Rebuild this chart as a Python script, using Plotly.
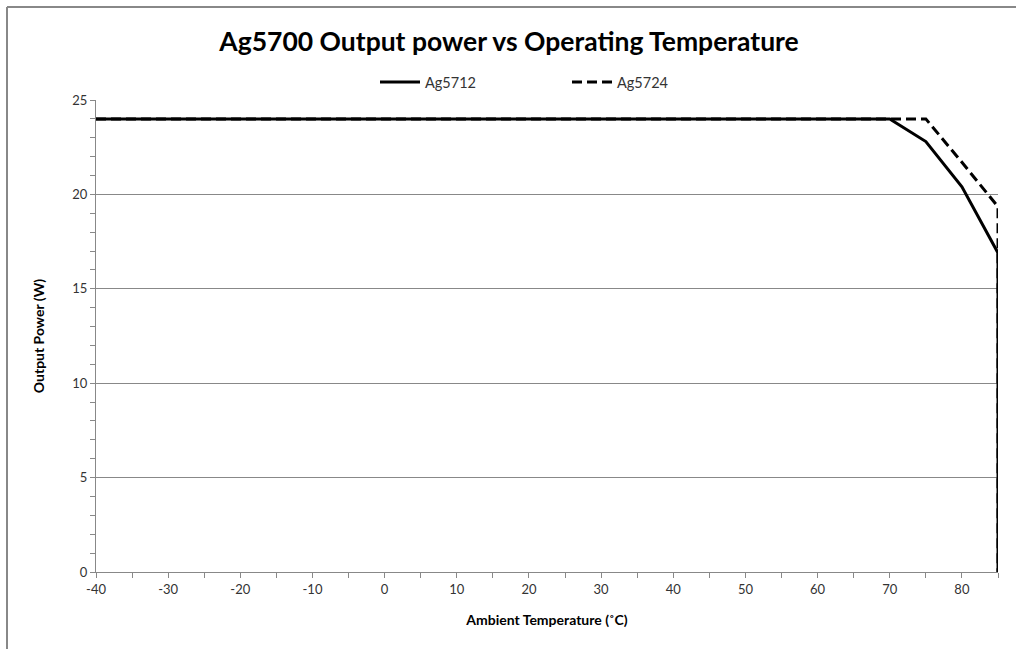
import plotly.graph_objects as go

temps = [-40, -35, -30, -25, -20, -15, -10, -5, 0, 5, 10, 15, 20, 25, 30, 35,
         40, 45, 50, 55, 60, 65, 70, 75, 80, 85, 85]
ag5712 = [24, 24, 24, 24, 24, 24, 24, 24, 24, 24, 24, 24, 24, 24, 24, 24,
          24, 24, 24, 24, 24, 24, 24, 22.8, 20.4, 16.9, 0]
ag5724 = [24, 24, 24, 24, 24, 24, 24, 24, 24, 24, 24, 24, 24, 24, 24, 24,
          24, 24, 24, 24, 24, 24, 24, 24, 21.7, 19.35, 0]

x_ticks = [-40, -30, -20, -10, 0, 10, 20, 30, 40, 50, 60, 70, 80]
y_ticks = [0, 5, 10, 15, 20, 25]

FONT = "Lato"

fig = go.Figure()
fig.add_trace(go.Scatter(x=temps, y=ag5724, mode="lines", name="Ag5724",
                         line=dict(color="black", width=3, dash="10px,5px")))
fig.add_trace(go.Scatter(x=temps, y=ag5712, mode="lines", name="Ag5712",
                         line=dict(color="black", width=3)))

fig.update_layout(
    width=1016, height=649,
    margin=dict(l=96, r=18, t=100, b=77),
    paper_bgcolor="white", plot_bgcolor="white",
    font=dict(family=FONT, size=13, color="#333"),
    title=dict(text="<b>Ag5700 Output power vs Operating Temperature</b>",
               x=(509 - 96) / 902, xref="paper", xanchor="center",
               y=0.935, yanchor="middle",
               font=dict(family=FONT, size=26.5, color="black")),
    showlegend=True,
    legend=dict(orientation="h", x=(375 - 96) / 902, xanchor="left", y=1.038, yanchor="middle",
                traceorder="reversed", entrywidth=137, entrywidthmode="pixels",
                itemwidth=40,
                font=dict(family=FONT, size=14.5, color="#333"),
                bgcolor="rgba(0,0,0,0)"),
    xaxis=dict(range=[-40, 85], tickvals=x_ticks, ticktext=[str(v) for v in x_ticks],
               showgrid=False, zeroline=False, showline=True, linecolor="#888", linewidth=1,
               ticks="outside", ticklen=5, tickcolor="#888",
               minor=dict(dtick=5, tick0=-40, ticks="outside", ticklen=5, tickcolor="#888"),
               tickfont=dict(size=13, color="#333"),
               title=dict(text="<b>Ambient Temperature (˚C)</b>", standoff=19,
                          font=dict(family=FONT, size=14, color="black"))),
    yaxis=dict(range=[0, 25], tickvals=y_ticks, ticktext=[str(v) for v in y_ticks],
               showgrid=True, gridcolor="#888", gridwidth=1, zeroline=False,
               showline=True, linecolor="#888", linewidth=1,
               ticks="outside", ticklen=5, tickcolor="#888",
               minor=dict(dtick=1, ticks="outside", ticklen=5, tickcolor="#888", showgrid=False),
               tickfont=dict(size=13, color="#333"),
               title=dict(text="<b>Output Power (W)</b>", standoff=24,
                          font=dict(family=FONT, size=14, color="black"))),
)

# outer chart frame (top and left edges visible)
fig.add_shape(type="line", xref="paper", yref="paper",
              x0=(7 - 96) / 902, x1=1.2, y0=(572 - 7) / 472, y1=(572 - 7) / 472,
              line=dict(color="#888", width=2))
fig.add_shape(type="line", xref="paper", yref="paper",
              x0=(7 - 96) / 902, x1=(7 - 96) / 902, y0=(572 - 7) / 472, y1=-0.3,
              line=dict(color="#888", width=2))

fig.write_html("out.html", config={"displayModeBar": False})

# remove the default browser body margin so the figure sits at the page origin
with open("out.html", "r", encoding="utf-8") as f:
    html = f.read()
html = html.replace("<head>", "<head><style>html,body{margin:0;padding:0;overflow:hidden;}</style>", 1)
with open("out.html", "w", encoding="utf-8") as f:
    f.write(html)
